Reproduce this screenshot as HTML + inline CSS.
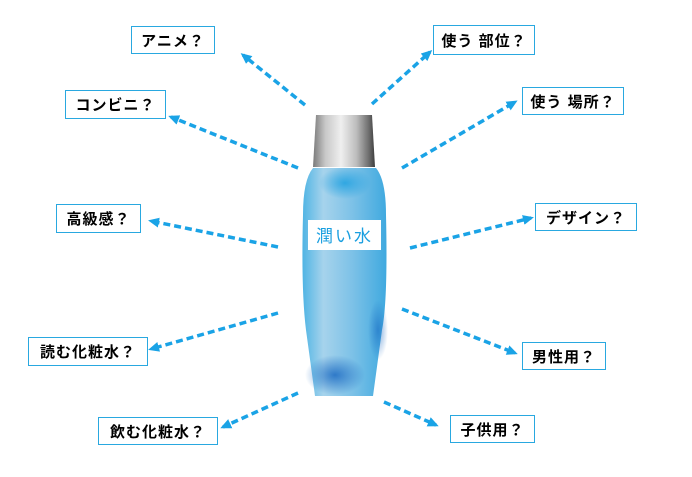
<!DOCTYPE html>
<html><head><meta charset="utf-8"><style>
html,body{margin:0;padding:0;background:#fff;}
.b{position:absolute;border:1.5px solid #29a8e0;background:#fff;box-sizing:border-box;font:bold 15px "Liberation Sans","Noto Sans CJK JP",sans-serif;color:#000;display:flex;align-items:center;justify-content:center;letter-spacing:1px;white-space:nowrap}
</style></head><body>
<div style="position:relative;width:692px;height:477px;overflow:hidden">
<svg width="692" height="477" style="position:absolute;left:0;top:0">
<defs>
<linearGradient id="cap" x1="0" x2="1">
<stop offset="0" stop-color="#7a7a7a"/><stop offset="0.2" stop-color="#c8c8c8"/><stop offset="0.45" stop-color="#efefef"/><stop offset="0.7" stop-color="#bdbdbd"/><stop offset="0.9" stop-color="#6d6d6d"/><stop offset="1" stop-color="#3c3c3c"/>
</linearGradient>
<linearGradient id="body" x1="0" x2="1">
<stop offset="0" stop-color="#4fb4e4"/><stop offset="0.25" stop-color="#a6d3ec"/><stop offset="0.6" stop-color="#7cc1e7"/><stop offset="1" stop-color="#3fa9df"/>
</linearGradient>
<radialGradient id="dk" cx="0.5" cy="0.5" r="0.5"><stop offset="0" stop-color="#1565c0" stop-opacity="0.8"/><stop offset="1" stop-color="#1565c0" stop-opacity="0"/></radialGradient>
<radialGradient id="lt" cx="0.5" cy="0.5" r="0.5"><stop offset="0" stop-color="#1a9fe0" stop-opacity="0.8"/><stop offset="1" stop-color="#1a9fe0" stop-opacity="0"/></radialGradient>
<marker id="ah" markerWidth="11" markerHeight="10" refX="8" refY="5" orient="auto" markerUnits="userSpaceOnUse"><path d="M0,0 L11,5 L0,10 z" fill="#1aa3e6"/></marker>
</defs>
<path d="M316,115 L372,115 L375,167 L313,167 Z" fill="url(#cap)"/>
<path d="M313,168 L376,168 Q386,180 386,215 Q388,300 382,330 L373,396 L315,396 L306,330 Q301,290 303,215 Q303,180 313,168 Z" fill="url(#body)"/>
<ellipse cx="345" cy="183" rx="26" ry="16" fill="url(#lt)"/>
<ellipse cx="335" cy="375" rx="30" ry="20" fill="url(#dk)"/>
<ellipse cx="378" cy="330" rx="10" ry="30" fill="url(#dk)" opacity="0.7"/>
<rect x="308" y="220" width="73" height="30" fill="#fff"/>
<text x="344.5" y="242" text-anchor="middle" font-family="Liberation Sans,Noto Sans CJK JP,sans-serif" font-size="17" fill="#1a9fe0" letter-spacing="2">潤い水</text>
<g stroke="#1aa3e6" stroke-width="3.5" stroke-dasharray="7,4" fill="none" marker-end="url(#ah)">
<line x1="305" y1="105" x2="243" y2="55"/>
<line x1="298" y1="168" x2="171" y2="117"/>
<line x1="278" y1="247" x2="151" y2="221"/>
<line x1="372" y1="104" x2="430" y2="52"/>
<line x1="402" y1="168" x2="515" y2="102"/>
<line x1="410" y1="248" x2="531" y2="218"/>
<line x1="278" y1="313" x2="151" y2="349"/>
<line x1="298" y1="393" x2="223" y2="427"/>
<line x1="402" y1="309" x2="515" y2="353"/>
<line x1="384" y1="402" x2="436" y2="425"/>
</g>
</svg>
<div class="b" style="left:131px;top:26px;width:84px;height:28px">アニメ？</div>
<div class="b" style="left:65px;top:90px;width:101px;height:29px">コンビニ？</div>
<div class="b" style="left:56px;top:204px;width:85px;height:29px">高級感？</div>
<div class="b" style="left:433px;top:25px;width:102px;height:30px">使う 部位？</div>
<div class="b" style="left:522px;top:87px;width:102px;height:28px">使う 場所？</div>
<div class="b" style="left:535px;top:203px;width:102px;height:28px">デザイン？</div>
<div class="b" style="left:28px;top:337px;width:120px;height:29px">読む化粧水？</div>
<div class="b" style="left:98px;top:417px;width:120px;height:28px">飲む化粧水？</div>
<div class="b" style="left:522px;top:342px;width:84px;height:28px">男性用？</div>
<div class="b" style="left:450px;top:415px;width:85px;height:28px">子供用？</div>
</div>
</body></html>
